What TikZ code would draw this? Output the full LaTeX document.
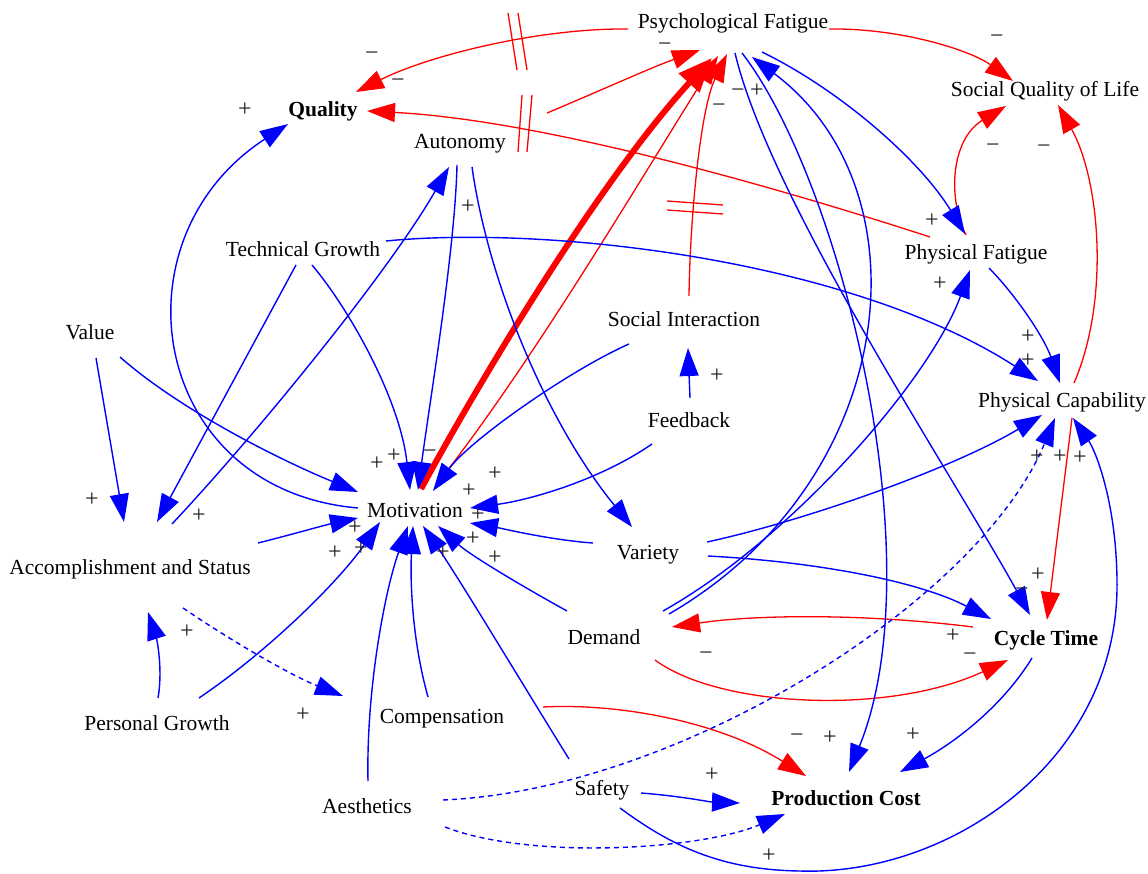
\documentclass[tikz,border=0pt]{standalone}
\usepackage{fontspec}
\setmainfont{Liberation Serif}
\usetikzlibrary{arrows.meta}
\definecolor{vblue}{RGB}{0,0,255}
\definecolor{vred}{RGB}{255,0,0}
\definecolor{sgn}{RGB}{30,30,30}
\begin{document}
\begin{tikzpicture}[x=1pt,y=-1pt,
  lbl/.style={inner sep=0pt,text height=14pt,text depth=0pt,font=\fontsize{21.5}{24}\selectfont},
  bld/.style={inner sep=0pt,text height=14pt,text depth=0pt,font=\fontsize{21.5}{24}\selectfont\bfseries},
  sg/.style={inner sep=0pt,text height=12pt,text depth=0pt,text=sgn,font=\fontsize{24}{26}\selectfont},
  bl/.style={draw=vblue,line width=1.4pt,-{Triangle[length=28pt,width=19pt]}},
  bldash/.style={bl,dash pattern=on 5pt off 4pt},
  rd/.style={draw=vred,line width=1.3pt,-{Triangle[length=28pt,width=19pt]}},
  rdthick/.style={draw=vred,line width=6pt,-{Triangle[length=34pt,width=27pt]}},
  delaymark/.style={draw=vred,line width=1.3pt}
]
\useasboundingbox (0,0) rectangle (1148,874);

% nodes
\node[lbl] (psy) at (733,22) {Psychological Fatigue};
\node[lbl] (sql) at (1045,90) {Social Quality of Life};
\node[bld] (qual) at (323,110) {Quality};
\node[lbl] (aut) at (460,142) {Autonomy};
\node[lbl] (tg) at (303,250) {Technical Growth};
\node[lbl] (pf) at (976,253) {Physical Fatigue};
\node[lbl] (val) at (90,333) {Value};
\node[lbl] (si) at (684,320) {Social Interaction};
\node[lbl] (pc) at (1062,400) {Physical Capability};
\node[lbl] (fb) at (689,420) {Feedback};
\node[lbl] (mot) at (415,510) {Motivation};
\node[lbl] (acc) at (130,567) {Accomplishment and Status};
\node[lbl] (var) at (648,552) {Variety};
\node[lbl] (dem) at (604,637) {Demand};
\node[bld] (ct) at (1046,638) {Cycle Time};
\node[lbl] (pg) at (157,723) {Personal Growth};
\node[lbl] (comp) at (442,716) {Compensation};
\node[lbl] (aes) at (367,806) {Aesthetics};
\node[lbl] (saf) at (602,788) {Safety};
\node[bld] (cost) at (846,798) {Production Cost};

% red links
\draw[rd] ([shift={(-105,7)}]psy.center) .. controls (540,28) and (430,55) .. ([shift={(33,-18)}]qual.center);
\draw[rd] ([shift={(-46,-16)}]pf.center) .. controls (770,185) and (540,120) .. ([shift={(44,1)}]qual.center);
\draw[rd] ([shift={(87,-29)}]aut.center) .. controls (595,93) and (650,68) .. ([shift={(-33,28)}]psy.center);
\draw[rd] ([shift={(32,-39)}]mot.center) .. controls (540,350) and (640,180) .. ([shift={(-15,34)}]psy.center);
\draw[rdthick] ([shift={(6,-21)}]mot.center) .. controls (480,380) and (600,180) .. ([shift={(-21,36)}]psy.center);
\draw[rd] ([shift={(5,-24)}]si.center) .. controls (690,220) and (700,110) .. ([shift={(-6,32)}]psy.center);
\draw[rd] ([shift={(96,7)}]psy.center) .. controls (900,28) and (970,50) .. ([shift={(-32,-9)}]sql.center);
\draw[rd] ([shift={(-10,-18)}]pf.center) .. controls (948,200) and (950,140) .. ([shift={(-39,16)}]sql.center);
\draw[rd] ([shift={(12,-17)}]pc.center) .. controls (1110,300) and (1100,180) .. ([shift={(13,15)}]sql.center);
\draw[rd] ([shift={(10,18)}]pc.center) -- ([shift={(1,-18)}]ct.center);
\draw[rd] ([shift={(-73,-11)}]ct.center) .. controls (870,614) and (760,614) .. ([shift={(68,-10)}]dem.center);
\draw[rd] ([shift={(51,23)}]dem.center) .. controls (720,708) and (890,715) .. ([shift={(-38,22)}]ct.center);
\draw[rd] ([shift={(101,-9)}]comp.center) .. controls (620,703) and (720,722) .. ([shift={(-40,-22)}]cost.center);

% delay marks
\draw[delaymark] (508,13) -- (517,70);
\draw[delaymark] (518,13) -- (527,70);
\draw[delaymark] (522,95) -- (518,152);
\draw[delaymark] (532,95) -- (527,152);
\draw[delaymark] (667,201) -- (723,205);
\draw[delaymark] (667,210) -- (723,214);

% blue links
\draw[bl] ([shift={(-57,-2)}]mot.center) .. controls (150,490) and (110,240) .. ([shift={(-35,14)}]qual.center);
\draw[bl] ([shift={(-7,15)}]tg.center) -- ([shift={(27,-45)}]acc.center);
\draw[bl] ([shift={(42,-43)}]acc.center) .. controls (260,430) and (390,270) .. ([shift={(-11,25)}]aut.center);
\draw[bl] ([shift={(6,25)}]val.center) -- ([shift={(-6,-45)}]acc.center);
\draw[bl] ([shift={(30,24)}]val.center) .. controls (180,410) and (280,460) .. ([shift={(-57,-18)}]mot.center);
\draw[bl] ([shift={(9,15)}]tg.center) .. controls (350,310) and (400,400) .. ([shift={(-5,-20)}]mot.center);
\draw[bl] ([shift={(83,-9)}]tg.center) .. controls (550,225) and (850,260) .. ([shift={(-24,-19)}]pc.center);
\draw[bl] ([shift={(-3,23)}]aut.center) .. controls (455,250) and (430,400) .. ([shift={(3,-20)}]mot.center);
\draw[bl] ([shift={(12,25)}]aut.center) .. controls (488,280) and (545,420) .. ([shift={(-16,-25)}]var.center);
\draw[bl] ([shift={(1,-22)}]fb.center) -- ([shift={(4,28)}]si.center);
\draw[bl] ([shift={(-37,24)}]fb.center) .. controls (600,480) and (530,500) .. ([shift={(55,-2)}]mot.center);
\draw[bl] ([shift={(-55,24)}]si.center) .. controls (570,370) and (470,440) .. ([shift={(18,-19)}]mot.center);
\draw[bl] ([shift={(-55,-9)}]var.center) .. controls (550,540) and (500,528) .. ([shift={(55,13)}]mot.center);
\draw[bl] ([shift={(59,-10)}]var.center) .. controls (800,522) and (950,470) .. ([shift={(-20,15)}]pc.center);
\draw[bl] ([shift={(60,4)}]var.center) .. controls (820,562) and (920,582) .. ([shift={(-55,-19)}]ct.center);
\draw[bl] ([shift={(-37,-26)}]dem.center) .. controls (520,585) and (470,555) .. ([shift={(23,16)}]mot.center);
\draw[bl] ([shift={(59,-26)}]dem.center) .. controls (790,540) and (930,380) .. ([shift={(-6,17)}]pf.center);
\draw[bl] ([shift={(65,-23)}]dem.center) .. controls (900,480) and (930,190) .. ([shift={(19,35)}]psy.center);
\draw[bl] ([shift={(2,31)}]psy.center) .. controls (770,200) and (950,470) .. ([shift={(-16,-23)}]ct.center);
\draw[bl] ([shift={(9,31)}]psy.center) .. controls (840,180) and (935,560) .. ([shift={(3,-26)}]cost.center);
\draw[bl] ([shift={(29,30)}]psy.center) .. controls (840,90) and (920,160) .. ([shift={(-11,-19)}]pf.center);
\draw[bl] ([shift={(13,15)}]pf.center) .. controls (1020,300) and (1045,340) .. ([shift={(-2,-17)}]pc.center);
\draw[bl] ([shift={(-14,20)}]ct.center) .. controls (1000,710) and (950,745) .. ([shift={(54,-26)}]cost.center);
\draw[bl] ([shift={(39,5)}]saf.center) .. controls (680,796) and (710,802) .. ([shift={(-106,5)}]cost.center);
\draw[bldash] ([shift={(78,21)}]aes.center) .. controls (530,860) and (700,850) .. ([shift={(-61,16)}]cost.center);
\draw[bldash] ([shift={(76,-6)}]aes.center) .. controls (680,790) and (980,600) .. ([shift={(-7,18)}]pc.center);
\draw[bl] ([shift={(18,20)}]saf.center) .. controls (670,845) and (720,870) .. (800,871) .. controls (950,876) and (1120,760) .. (1117,580) .. controls (1116,500) and (1095,450) .. ([shift={(11,18)}]pc.center);
\draw[bl] ([shift={(-33,-29)}]saf.center) .. controls (520,680) and (460,580) .. ([shift={(8,16)}]mot.center);
\draw[bl] ([shift={(-14,-19)}]comp.center) .. controls (412,640) and (410,580) .. ([shift={(-2,16)}]mot.center);
\draw[bl] ([shift={(1,-25)}]aes.center) .. controls (366,690) and (385,590) .. ([shift={(-7,16)}]mot.center);
\draw[bl] ([shift={(42,-25)}]pg.center) .. controls (270,650) and (340,580) .. ([shift={(-35,12)}]mot.center);
\draw[bl] ([shift={(1,-25)}]pg.center) .. controls (163,670) and (157,640) .. ([shift={(18,45)}]acc.center);
\draw[bldash] ([shift={(53,41)}]acc.center) .. controls (230,640) and (290,675) .. ([shift={(-99,-20)}]comp.center);
\draw[bl] ([shift={(128,-24)}]acc.center) .. controls (290,535) and (325,525) .. ([shift={(-57,8)}]mot.center);

% polarity signs
\foreach \px/\py [count=\i] in {372/55, 398/82, 665/46, 997/38, 993/147, 1044/148, 738/92, 719/107, 430/452, 1022/590, 970/655, 706/654, 797/736}
  \node[sg] (m\i) at (\px,\py) {−};
\foreach \px/\py [count=\i] in {245/111, 757/92, 468/208, 932/222, 940/285, 1028/338, 1028/361, 717/376, 1037/457, 1060/457, 1080/458, 377/464, 394/456, 495/474, 469/491, 478/515, 473/539, 495/558, 443/553, 355/528, 361/549, 335/553, 92/500, 199/516, 187/632, 303/715, 1038/575, 953/636, 830/738, 913/735, 712/775, 769/856}
  \node[sg] (p\i) at (\px,\py) {+};
\end{tikzpicture}
\end{document}
